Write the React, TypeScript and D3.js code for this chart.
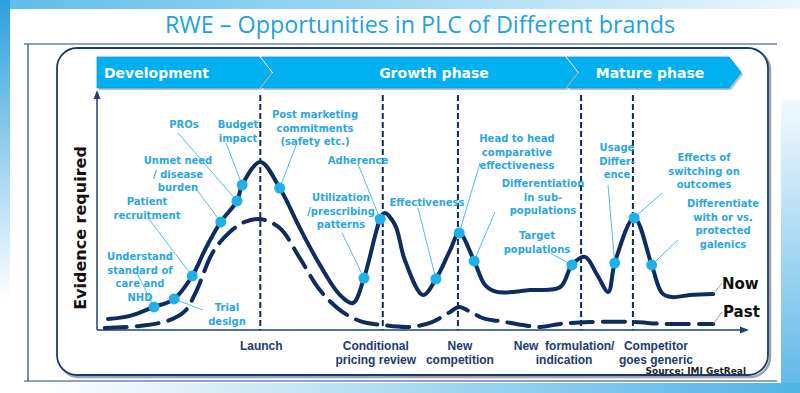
import React from "react";
import * as d3 from "d3";

// time axis (0-100) and evidence level (0-100)
const nowX = [1.7, 5.1, 8.8, 11.9, 14.7, 16.8, 19.1, 21.6, 22.4, 25.2, 28.2, 31.3, 34.4, 37.5, 39.5, 41.2, 43.7, 44.4, 46.0, 47.5, 50.3, 52.3, 54.5, 55.9, 58.2, 59.9, 61.7, 66.8, 71.5, 73.3, 75.3, 77.2, 78.9, 79.9, 82.9, 85.6, 87.2, 88.7, 91.5, 95.1];
const nowY = [4.7, 6.0, 9.8, 13.2, 23.0, 34.9, 46.0, 54.9, 61.7, 71.5, 60.4, 43.4, 27.7, 14.9, 11.5, 22.1, 47.2, 49.8, 44.7, 29.8, 14.9, 21.7, 34.0, 41.3, 29.4, 19.1, 16.2, 17.0, 18.3, 27.7, 31.1, 23.4, 16.2, 28.5, 47.7, 27.7, 15.7, 14.0, 14.9, 15.3];

const pastX = [1.2, 6.6, 11.3, 13.6, 15.4, 17.9, 20.5, 22.8, 25.2, 28.2, 31.3, 34.4, 37.5, 40.6, 44.1, 48.3, 51.7, 54.5, 55.9, 57.6, 59.9, 62.2, 65.7, 68.4, 71.5, 76.1, 82.7, 87.3, 95.1];
const pastY = [0.9, 1.7, 4.3, 8.1, 17.0, 33.2, 41.7, 46.0, 47.2, 43.4, 30.6, 17.0, 8.5, 3.8, 2.1, 1.3, 3.4, 7.7, 9.8, 7.7, 4.7, 3.8, 2.1, 1.3, 2.6, 3.4, 3.4, 2.6, 2.6];

const phases = ["Development", "Growth phase", "Mature phase"];
const phaseEnd = [26.9, 74.1, 99.4];

const milestones = [["Launch"], ["Conditional", "pricing review"], ["New", "competition"], ["New  formulation/", "indication"], ["Competitor", "goes generic"]];
const milestoneX = [25.2, 44.1, 55.7, 74.7, 82.7];

const annotations = [
  ["Understand", "standard of", "care and", "NHD"],
  ["Trial", "design"],
  ["Patient", "recruitment"],
  ["Unmet need", "/ disease", "burden"],
  ["PROs"],
  ["Budget", "impact"],
  ["Post marketing", "commitments", "(safety etc.)"],
  ["Adherence"],
  ["Utilization", "/prescribing", "patterns"],
  ["Effectiveness"],
  ["Head to head", "comparative", "effectiveness"],
  ["Differentiation", "in sub-", "populations"],
  ["Target", "populations"],
  ["Usage", "Differ-", "ence"],
  ["Effects of", "switching on", "outcomes"],
  ["Differentiate", "with or vs.", "protected", "galenics"],
];
const dotX = [8.8, 11.9, 14.7, 19.1, 21.6, 22.4, 28.2, 43.7, 41.2, 52.3, 55.9, 58.2, 73.3, 79.9, 82.9, 85.6];
const dotY = [9.8, 13.2, 23.0, 46.0, 54.9, 61.7, 60.4, 47.2, 22.1, 21.7, 41.3, 29.4, 27.7, 28.5, 47.7, 27.7];

// label layout: [centre x, first baseline, leader start x, leader start y]
const labelPos = [
  [140, 260, 137, 273], [227, 311, 203, 310], [147, 205, 148, 218], [178, 164, 197, 190],
  [184, 128, 178, 133], [238, 128, 226, 143], [315, 118, 297, 143], [358, 164, 358, 164],
  [341, 201, 342, 233], [427, 206, 418, 208], [517, 142, 480, 163], [543, 187, 495, 212],
  [537, 239, 550, 253], [617, 151, 608, 185], [704, 161, 662, 193], [723, 207, 678, 240],
];
const milestoneDx = [1, -7, 2, -17, 23];

const W = 800;
const H = 393;
const navy = "#0e2c5e";
const cyan = "#1fb0ea";
const labelBlue = "#2aa7df";

export default function App() {
  const x = d3.scaleLinear().domain([0, 100]).range([97, 745]);
  const y = d3.scaleLinear().domain([0, 100]).range([330, 95]);
  const bandTop = 57;
  const bandH = 31;
  const tip = 12;

  const lineGen = d3
    .line<number>()
    .x((d) => x(d))
    .curve(d3.curveCatmullRom.alpha(0.5));

  const nowPath = lineGen.y((d, i) => y(nowY[i]))(nowX);
  const pastPath = lineGen.y((d, i) => y(pastY[i]))(pastX);

  const chevron = (i: number) => {
    const x0 = i === 0 ? x(0) : x(phaseEnd[i - 1]) - tip + 2;
    const x1 = x(phaseEnd[i]) - tip;
    const m = bandTop + bandH / 2;
    const notch = i === 0 ? "" : ` L${x0 + tip},${m}`;
    return `M${x0},${bandTop} L${x1},${bandTop} L${x1 + tip},${m} L${x1},${bandTop + bandH} L${x0},${bandTop + bandH}${notch} Z`;
  };

  return (
    <svg width={W} height={H} style={{ position: "absolute", left: 0, top: 0, background: "#fff" }}>
      <defs>
        <linearGradient id="topG" x1="0" x2="1" y1="0" y2="0">
          <stop offset="0" stopColor="#5fbde9" />
          <stop offset="1" stopColor="#eaf6fc" />
        </linearGradient>
        <linearGradient id="leftG" x1="0" x2="0" y1="0" y2="1">
          <stop offset="0" stopColor="#2d9fde" />
          <stop offset="1" stopColor="#ffffff" />
        </linearGradient>
        <linearGradient id="rightG" x1="0" x2="0" y1="0" y2="1">
          <stop offset="0" stopColor="#f2f9fd" />
          <stop offset="1" stopColor="#5db8e8" />
        </linearGradient>
        <linearGradient id="botG" x1="0" x2="1" y1="0" y2="0">
          <stop offset="0" stopColor="#ffffff" />
          <stop offset="1" stopColor="#4fb3e6" />
        </linearGradient>
        <marker id="arr" viewBox="0 0 10 10" refX="8" refY="5" markerWidth="6" markerHeight="6" orient="auto">
          <path d="M0,1 L10,5 L0,9 Z" fill="#1f3f7a" />
        </marker>
      </defs>

      {/* page decoration */}
      <rect x={0} y={0} width={W} height={9} fill="url(#topG)" />
      <rect x={0} y={0} width={10} height={300} fill="url(#leftG)" />
      <rect x={781} y={100} width={19} height={293} fill="url(#rightG)" />
      <rect x={40} y={383} width={760} height={10} fill="url(#botG)" />

      <text x={420} y={33} textAnchor="middle" fontFamily="'Open Sans', sans-serif" fontSize={23.3} fontWeight={500} fill="#1ea2de">
        RWE – Opportunities in PLC of Different brands
      </text>

      <line x1={24} x2={777} y1={44} y2={44} stroke="#23438a" strokeWidth={1.2} />
      <line x1={24} x2={777} y1={381} y2={381} stroke="#23438a" strokeWidth={1.2} />
      <line x1={28} x2={28} y1={44} y2={381} stroke="#23438a" strokeWidth={1.2} />

      {/* panel */}
      <rect x={59} y={50} width={711} height={327} rx={20} fill="none" stroke="#9aa3b3" strokeWidth={2.5} />
      <rect x={57} y={48} width={711} height={327} rx={20} fill="#fff" stroke="#1d3a6e" strokeWidth={1.8} />

      {/* phase band */}
      {phases.map((p, i) => (
        <g key={p}>
          <path d={chevron(i)} transform="translate(2,2)" fill="#b8c4cc" />
          <path d={chevron(i)} fill="#00b0f0" stroke="#0a9ad3" strokeWidth={0.8} />
          <text
            x={i === 0 ? 104 : i === 1 ? 434 : 650}
            y={bandTop + bandH / 2 + 5}
            textAnchor={i === 0 ? "start" : "middle"}
            fontFamily="'DejaVu Sans', sans-serif"
            fontWeight="bold"
            fontSize={14}
            fill="#fff"
          >
            {p}
          </text>
        </g>
      ))}

      {/* axes */}
      <line x1={x(0)} x2={x(0)} y1={y(0)} y2={y(100) - 3} stroke="#1f3f7a" strokeWidth={1.5} markerEnd="url(#arr)" />
      <line x1={x(0)} x2={x(100) + 2} y1={y(0)} y2={y(0)} stroke="#1f3f7a" strokeWidth={1.5} markerEnd="url(#arr)" />
      <text
        transform="translate(86,228) rotate(-90)"
        textAnchor="middle"
        fontFamily="'DejaVu Sans', sans-serif"
        fontWeight="bold"
        fontSize={16}
        fill="#111"
      >
        Evidence required
      </text>

      {/* milestones */}
      {milestones.map((m, i) => (
        <g key={i}>
          <line x1={x(milestoneX[i])} x2={x(milestoneX[i])} y1={y(100)} y2={y(0)} stroke={navy} strokeWidth={2} strokeDasharray="6 3" />
          {m.map((t, j) => (
            <text
              key={j}
              x={x(milestoneX[i]) + milestoneDx[i]}
              y={350 + j * 14}
              textAnchor="middle"
              fontFamily="'Liberation Sans', Arial, sans-serif"
              fontWeight="bold"
              fontSize={12}
              fill="#1d3a70"
              style={{ whiteSpace: "pre" }}
            >
              {t}
            </text>
          ))}
        </g>
      ))}

      {/* curves */}
      <path d={pastPath || ""} fill="none" stroke={navy} strokeWidth={4} strokeDasharray="22 10" strokeLinecap="round" />
      <path d={nowPath || ""} fill="none" stroke={navy} strokeWidth={4} strokeLinecap="round" />

      {/* annotations */}
      {annotations.map((lines, i) => {
        const [cx, by, lx, ly] = labelPos[i];
        return (
          <g key={i}>
            <line x1={lx} y1={ly} x2={x(dotX[i])} y2={y(dotY[i])} stroke={labelBlue} strokeWidth={0.8} />
            <circle cx={x(dotX[i])} cy={y(dotY[i])} r={5.5} fill={cyan} />
            {lines.map((t, j) => (
              <text
                key={j}
                x={cx}
                y={by + j * 13.5}
                textAnchor="middle"
                fontFamily="'DejaVu Sans', sans-serif"
                fontWeight="bold"
                fontSize={10}
                fill={labelBlue}
              >
                {t}
              </text>
            ))}
          </g>
        );
      })}

      {/* series labels */}
      <line x1={x(nowX[nowX.length - 1])} y1={y(nowY[nowY.length - 1])} x2={722} y2={283} stroke="#888" strokeWidth={0.8} />
      <text x={722} y={289} fontFamily="'DejaVu Sans', sans-serif" fontWeight="bold" fontSize={15} fill="#111">Now</text>
      <line x1={x(pastX[pastX.length - 1])} y1={y(pastY[pastY.length - 1])} x2={722} y2={312} stroke="#888" strokeWidth={0.8} />
      <text x={723} y={317} fontFamily="'DejaVu Sans', sans-serif" fontWeight="bold" fontSize={15} fill="#111">Past</text>

      <text x={746} y={374} textAnchor="end" fontFamily="'DejaVu Sans', sans-serif" fontWeight="bold" fontSize={9} fill="#222">
        Source: IMI GetReal
      </text>
    </svg>
  );
}
